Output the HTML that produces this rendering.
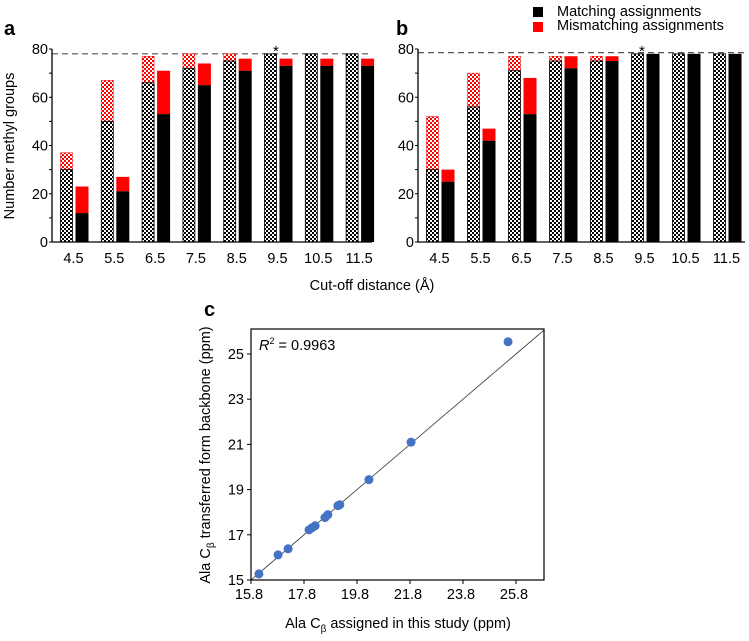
<!DOCTYPE html>
<html><head><meta charset="utf-8"><style>
html,body{margin:0;padding:0;background:#fff;}
svg{display:block;font-family:"Liberation Sans",sans-serif;}
</style></head><body>
<svg id="fig" width="749" height="641" viewBox="0 0 749 641">
<defs>
<pattern id="chk" width="4" height="4" patternUnits="userSpaceOnUse"><rect width="4" height="4" fill="#fff"/><rect width="2" height="2" fill="#000"/><rect x="2" y="2" width="2" height="2" fill="#000"/></pattern>
<pattern id="chkr" width="4" height="4" patternUnits="userSpaceOnUse"><rect width="4" height="4" fill="#fff"/><rect width="2" height="2" fill="#f00"/><rect x="2" y="2" width="2" height="2" fill="#f00"/></pattern>
</defs>
<text x="4" y="35" font-size="20" font-weight="bold">a</text>
<text x="396" y="35" font-size="20" font-weight="bold">b</text>
<text x="204" y="316" font-size="20" font-weight="bold">c</text>
<rect x="533" y="7" width="10" height="10" fill="#000"/>
<text x="557" y="16" font-size="14.5">Matching assignments</text>
<rect x="533" y="22" width="10" height="10" fill="#f00"/>
<text x="557" y="30" font-size="14.5">Mismatching assignments</text>
<text transform="translate(14,146) rotate(-90)" text-anchor="middle" font-size="14.5">Number methyl groups</text>
<text x="372" y="290" text-anchor="middle" font-size="14.5">Cut-off distance (Å)</text>
<text x="259" y="350" font-size="14.5"><tspan font-style="italic">R</tspan><tspan font-size="9" dy="-6">2</tspan><tspan dy="6"> =  0.9963</tspan></text>
<text transform="translate(210,455) rotate(-90)" text-anchor="middle" font-size="14.5">Ala C<tspan font-size="10" dy="4">β</tspan><tspan dy="-4"> transferred form backbone (ppm)</tspan></text>
<text x="398" y="628" text-anchor="middle" font-size="14.5">Ala C<tspan font-size="10" dy="4">β</tspan><tspan dy="-4"> assigned in this study (ppm)</tspan></text>
<text x="273" y="56" font-size="15">*</text>
<text x="639" y="56" font-size="15">*</text>
<g id="gA"></g><g id="gB"></g><g id="gC"></g>
</svg>
<script>
const categories=["4.5","5.5","6.5","7.5","8.5","9.5","10.5","11.5"];
const yTicks=[0,20,40,60,80];
const aChkMatch=[30,50,66,72,75,78,78,78];
const aChkTotal=[37,67,77,78,78,78,78,78];
const aSolMatch=[12,21,53,65,71,73,73,73];
const aSolTotal=[23,27,71,74,76,76,76,76];
const bChkMatch=[30,56,71,75,75,78,78,78];
const bChkTotal=[52,70,77,77,77,78,78,78];
const bSolMatch=[25,42,53,72,75,78,78,78];
const bSolTotal=[30,47,68,77,77,78,78,78];
const refLineA=78, refLineB=78.5;
const scX=[16.1,16.82,17.2,17.99,18.1,18.22,18.59,18.7,19.08,19.15,20.25,21.84,25.5];
const scY=[15.27,16.11,16.38,17.22,17.31,17.4,17.76,17.89,18.29,18.33,19.44,21.1,25.54];
const fitX=[15.8,26.86];
const fitY=[15.0,26.06];
const cxTicks=[15.8,17.8,19.8,21.8,23.8,25.8];
const cyTicks=[15,17,19,21,23,25];
const NS="http://www.w3.org/2000/svg";
function mk(p,t,a){const e=document.createElementNS(NS,t);for(const k in a)e.setAttribute(k,a[k]);p.appendChild(e);return e;}
function barChart(g,ax0,ax1,c0,step,chkM,chkT,solM,solT,ref,tag){
  const y=v=>242-v*193/80;
  const cx=i=>c0+step*i;
  mk(g,'line',{x1:ax0,y1:y(ref),x2:ax1,y2:y(ref),stroke:'#555','stroke-dasharray':'6,4','stroke-width':1.2});
  categories.forEach((c,i)=>{
    const x=cx(i);
    let r=mk(g,'rect',{x:x-14,y:y(chkT[i]),width:12,height:y(chkM[i])-y(chkT[i]),fill:'url(#chkr)',stroke:'#f00','stroke-width':0.5});
    
    
    r=mk(g,'rect',{x:x-14,y:y(chkM[i]),width:12,height:y(0)-y(chkM[i]),fill:'url(#chk)',stroke:'#000','stroke-width':0.8});
    
    
    r=mk(g,'rect',{x:x+1,y:y(solT[i]),width:13,height:y(solM[i])-y(solT[i]),fill:'#f00'});
    
    
    r=mk(g,'rect',{x:x+1,y:y(solM[i]),width:13,height:y(0)-y(solM[i]),fill:'#000'});
    
    
    const t=mk(g,'text',{x:x-1,y:263,'text-anchor':'middle','font-size':14.5});t.textContent=c;
    
    
  });
  mk(g,'line',{x1:ax0,y1:49,x2:ax0,y2:242.5,stroke:'#000','stroke-width':1.3});
  mk(g,'line',{x1:ax0,y1:242,x2:ax1,y2:242,stroke:'#000','stroke-width':1.3});
  for(let v=0;v<=80;v+=10) mk(g,'line',{x1:ax0-3,y1:y(v),x2:ax0,y2:y(v),stroke:'#000','stroke-width':1});
  yTicks.forEach(v=>{const t=mk(g,'text',{x:ax0-4,y:y(v)+5,'text-anchor':'end','font-size':14.5});t.textContent=v;
    
    });
}
barChart(document.getElementById('gA'),52,372,74.5,40.8,aChkMatch,aChkTotal,aSolMatch,aSolTotal,refLineA,'a');
barChart(document.getElementById('gB'),418,745,440.5,41,bChkMatch,bChkTotal,bSolMatch,bSolTotal,refLineB,'b');
const gC=document.getElementById('gC');
const sx=v=>251+(v-15.8)*26.5;
const sy=v=>580-(v-15)*22.6;
let fl=mk(gC,'line',{x1:sx(fitX[0]),y1:sy(fitY[0]),x2:sx(fitX[1]),y2:sy(fitY[1]),stroke:'#333','stroke-width':0.8});


scX.forEach((v,i)=>{const c=mk(gC,'circle',{cx:sx(v),cy:sy(scY[i]),r:4.5,fill:'#4472c4'});
  
  });
let box=mk(gC,'rect',{x:251,y:329,width:293,height:251,fill:'none',stroke:'#000','stroke-width':1.2});


cxTicks.forEach(v=>{mk(gC,'line',{x1:sx(v),y1:580,x2:sx(v),y2:584,stroke:'#000'});
  const t=mk(gC,'text',{x:sx(v)-2,y:599,'text-anchor':'middle','font-size':14.5});t.textContent=v.toFixed(1);
  
  });
cyTicks.forEach(v=>{mk(gC,'line',{x1:247,y1:sy(v),x2:251,y2:sy(v),stroke:'#000'});
  const t=mk(gC,'text',{x:244,y:sy(v)+5,'text-anchor':'end','font-size':14.5});t.textContent=v;
  
  });
</script>
</body></html>
